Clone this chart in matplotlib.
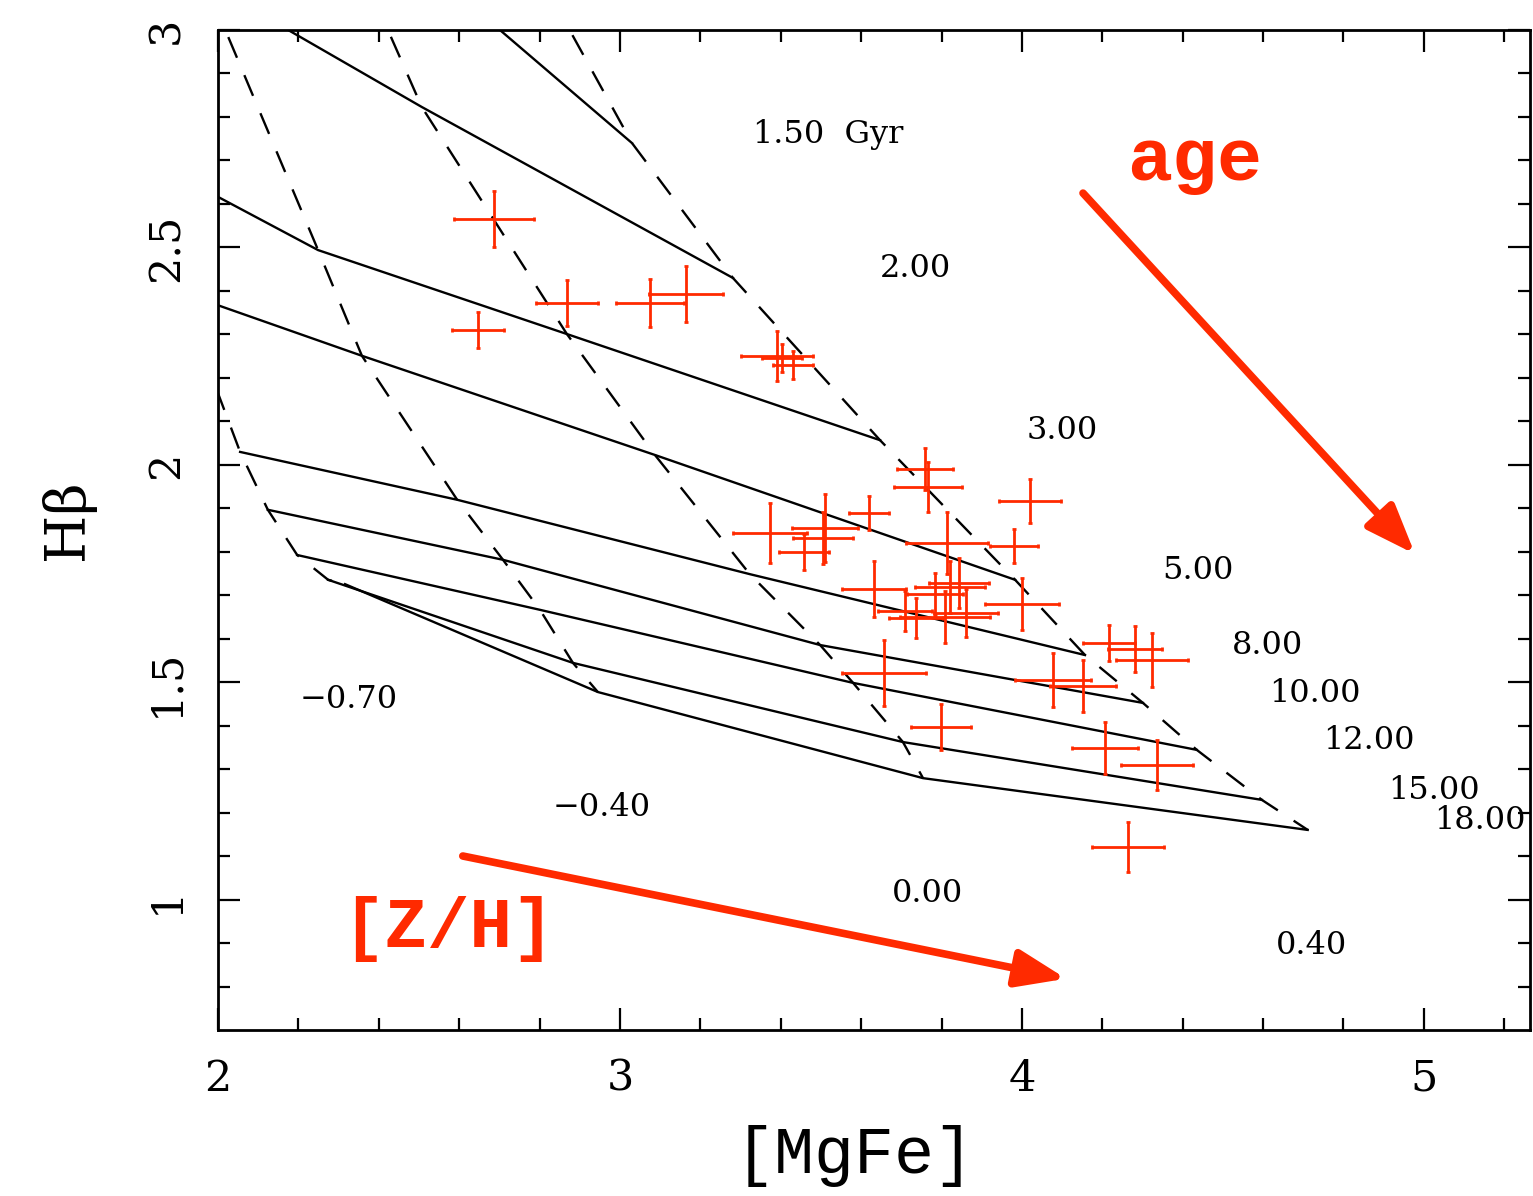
import numpy as np
import matplotlib
matplotlib.use('Agg')
import matplotlib.pyplot as plt
from matplotlib.ticker import MultipleLocator, FuncFormatter

# SSP model grid: one row per age (Gyr), one column per [Z/H]
ages = [1.0, 1.5, 2.0, 3.0, 5.0, 8.0, 10.0, 12.0, 15.0, 18.0]
age_labels = ['', '1.50  Gyr', '2.00', '3.00', '5.00', '8.00',
              '10.00', '12.00', '15.00', '18.00']
metallicities = [-0.70, -0.40, 0.00, 0.40]
metal_labels = ['\u22120.70', '\u22120.40', '0.00', '0.40']

model_mgfe = [
    [1.209, 1.582, 2.080, 2.751],
    [1.458, 1.831, 2.254, 3.030],
    [1.607, 1.968, 2.507, 3.281],
    [1.781, 2.249, 2.868, 3.647],
    [1.905, 2.358, 3.087, 3.983],
    [2.055, 2.595, 3.323, 4.157],
    [2.124, 2.709, 3.498, 4.301],
    [2.197, 2.801, 3.580, 4.435],
    [2.274, 2.883, 3.704, 4.597],
    [2.316, 2.945, 3.754, 4.711],
]
model_hbeta = [
    [4.218, 4.034, 3.759, 3.207],
    [3.644, 3.529, 3.354, 2.740],
    [3.207, 3.110, 2.823, 2.430],
    [2.724, 2.494, 2.301, 2.057],
    [2.398, 2.251, 2.023, 1.736],
    [2.030, 1.920, 1.749, 1.563],
    [1.897, 1.782, 1.586, 1.453],
    [1.793, 1.667, 1.499, 1.345],
    [1.736, 1.545, 1.363, 1.230],
    [1.726, 1.478, 1.280, 1.161],
]

# measured line strengths
obs_mgfe = [2.687, 2.647, 2.868, 3.075, 3.164, 3.391, 3.403, 3.430, 3.759, 3.766,
            4.020, 3.980, 3.619, 3.373, 3.510, 3.505, 3.458, 3.813, 3.632, 4.000,
            3.821, 3.843, 3.784, 3.709, 3.736, 3.808, 3.861, 3.657, 3.799, 4.077,
            4.152, 4.206, 4.216, 4.281, 4.323, 4.336, 4.264]
obs_mgfe_err = [0.100, 0.065, 0.077, 0.085, 0.092, 0.090, 0.050, 0.050, 0.070, 0.085,
                0.077, 0.060, 0.050, 0.092, 0.082, 0.075, 0.062, 0.102, 0.080, 0.092,
                0.087, 0.075, 0.070, 0.067, 0.067, 0.112, 0.080, 0.104, 0.075, 0.095,
                0.082, 0.082, 0.065, 0.067, 0.090, 0.090, 0.090]
obs_hbeta = [2.566, 2.310, 2.372, 2.372, 2.393, 2.251, 2.246, 2.230, 1.991, 1.949,
             1.917, 1.814, 1.890, 1.844, 1.855, 1.832, 1.800, 1.821, 1.715, 1.680,
             1.720, 1.729, 1.703, 1.664, 1.648, 1.651, 1.660, 1.522, 1.398, 1.506,
             1.492, 1.349, 1.591, 1.577, 1.552, 1.310, 1.122]
obs_hbeta_err = [0.064, 0.041, 0.053, 0.055, 0.064, 0.057, 0.032, 0.032, 0.048, 0.057,
                 0.051, 0.039, 0.039, 0.069, 0.078, 0.060, 0.041, 0.071, 0.064, 0.060,
                 0.060, 0.057, 0.048, 0.046, 0.046, 0.060, 0.055, 0.076, 0.053, 0.062,
                 0.060, 0.060, 0.041, 0.053, 0.062, 0.057, 0.057]

RED = '#ff2a00'
SERIF = 'DejaVu Serif'
MONO = 'Liberation Mono'


def draw_grid(ax):
    """Iso-age lines (solid) and iso-metallicity lines (dashed)."""
    mgfe = np.array(model_mgfe)
    hbeta = np.array(model_hbeta)

    for row in range(len(ages)):
        ax.plot(mgfe[row], hbeta[row], color='black', lw=1.7)
    for col in range(len(metallicities)):
        ax.plot(mgfe[:, col], hbeta[:, col], color='black', lw=1.7,
                linestyle=(0, (9.5, 8)))

    # age labels sit to the right of the most metal-rich model
    for row, label in enumerate(age_labels):
        if not label:
            continue
        if label.endswith('Gyr'):
            offset, ha = (87, 6), 'left'
        else:
            offset, ha = (157, 7), 'right'
        ax.annotate(label, (mgfe[row, -1], hbeta[row, -1]), xytext=offset,
                    textcoords='offset points', ha=ha, va='center',
                    fontsize=23, family=SERIF)

    # metallicity labels below the oldest model
    for col, label in enumerate(metal_labels):
        ax.annotate(label, (mgfe[-1, col], hbeta[-1, col]), xytext=(3, -83),
                    textcoords='offset points', ha='center', va='center',
                    fontsize=23, family=SERIF)


def draw_arrows(ax):
    arrow = dict(arrowstyle='-|>,head_length=1.0,head_width=0.38', color=RED,
                 lw=5.5, mutation_scale=30, shrinkA=0, shrinkB=0)
    ax.annotate('', xy=(4.978, 1.795), xytext=(4.152, 2.625), arrowprops=arrow)
    ax.annotate('', xy=(4.110, 0.819), xytext=(2.609, 1.101), arrowprops=arrow)
    ax.text(4.430, 2.701, 'age', color=RED, fontsize=54, family=MONO,
            fontweight='bold', ha='center', va='center')
    ax.text(2.572, 0.933, '[Z/H]', color=RED, fontsize=51, family=MONO,
            fontweight='bold', ha='center', va='center')


def style_axes(ax):
    ax.set_xlim(2.0, 5.264)
    ax.set_ylim(0.701, 3.0)
    ax.xaxis.set_major_locator(MultipleLocator(1))
    ax.xaxis.set_minor_locator(MultipleLocator(0.2))
    ax.yaxis.set_major_locator(MultipleLocator(0.5))
    ax.yaxis.set_minor_locator(MultipleLocator(0.1))
    fmt = FuncFormatter(lambda v, _: f'{v:g}')
    ax.xaxis.set_major_formatter(fmt)
    ax.yaxis.set_major_formatter(fmt)

    for side in ax.spines.values():
        side.set_linewidth(2.0)
    ax.tick_params(which='both', direction='in', top=True, right=True, width=1.6)
    ax.tick_params(which='major', length=16)
    ax.tick_params(which='minor', length=8.6)
    ax.tick_params(axis='x', which='major', pad=20, labelsize=31)
    ax.tick_params(axis='y', which='major', pad=22, labelsize=31, labelrotation=90)
    for lab in ax.get_xticklabels() + ax.get_yticklabels():
        lab.set_family(SERIF)
    for lab in ax.get_yticklabels():
        lab.set_va('center')

    ax.set_xlabel('[MgFe]', fontsize=48, family=MONO)
    ax.xaxis.set_label_coords(0.4855, -0.095)
    ax.set_ylabel('H\u03b2', fontsize=40, family=SERIF)
    ax.yaxis.set_label_coords(-0.094, 0.51)


def main():
    fig = plt.figure(figsize=(15.33, 11.96), dpi=100)
    ax = fig.add_axes([218 / 1533, 1 - 1030 / 1196, 1312 / 1533, 1000 / 1196])

    draw_grid(ax)
    ax.errorbar(obs_mgfe, obs_hbeta, xerr=obs_mgfe_err, yerr=obs_hbeta_err,
                fmt='none', ecolor=RED, elinewidth=2.0, capsize=1.5, capthick=2.0)
    draw_arrows(ax)
    style_axes(ax)

    fig.savefig('out.png', dpi=100)
    plt.close(fig)


if __name__ == '__main__':
    main()
